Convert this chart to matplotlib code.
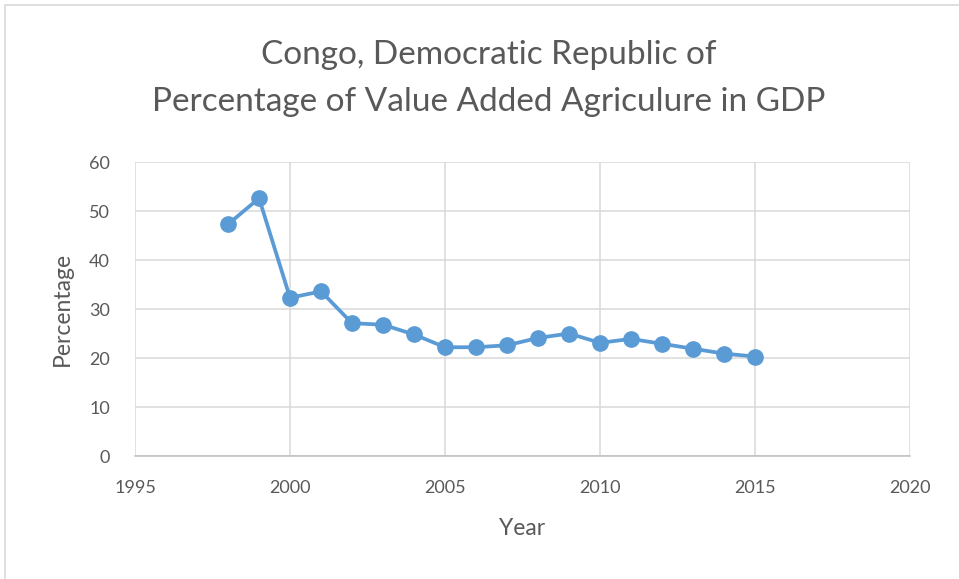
import matplotlib.pyplot as plt
from matplotlib.patches import Rectangle

plt.rcParams['font.family'] = ['Lato', 'DejaVu Sans']

years = [1998, 1999, 2000, 2001, 2002, 2003, 2004, 2005, 2006, 2007,
         2008, 2009, 2010, 2011, 2012, 2013, 2014, 2015]
pct = [47.3, 52.6, 32.3, 33.6, 27.1, 26.8, 24.8, 22.2, 22.2, 22.6,
       24.1, 25.0, 23.1, 23.9, 22.9, 21.9, 20.9, 20.3]
x_ticks = [1995, 2000, 2005, 2010, 2015, 2020]
y_ticks = [0, 10, 20, 30, 40, 50, 60]

fig = plt.figure(figsize=(9.59, 5.79), dpi=100)
ax = fig.add_axes([0.1408, 0.2124, 0.8082, 0.5078])

# light border of the chart box
fig.patches.append(Rectangle((5 / 959, -0.1), 1.2, 1.1 - 5 / 579, transform=fig.transFigure,
                             fill=False, edgecolor='#D9D9D9', linewidth=1.2))

ax.plot(years, pct, color='#5B9BD5', linewidth=2.7, marker='o', markersize=11, zorder=3)

ax.set_xlim(1995, 2020)
ax.set_ylim(0, 60)
ax.set_xticks(x_ticks)
ax.set_yticks(y_ticks)
ax.grid(True, color='#D9D9D9', linewidth=1.1)
ax.set_axisbelow(True)
for s in ['top', 'right', 'left']:
    ax.spines[s].set_visible(False)
ax.spines['bottom'].set_color('#BFBFBF')
ax.spines['bottom'].set_linewidth(1.1)
ax.tick_params(length=0, labelsize=13, labelcolor='#595959')
ax.tick_params(axis='y', pad=18)
ax.tick_params(axis='x', pad=17)

ax.set_xlabel('Year', fontsize=16.5, color='#595959', labelpad=16)
ax.set_ylabel('Percentage', fontsize=16.5, color='#595959', labelpad=12)

fig.text(0.51, 0.905, 'Congo, Democratic Republic of', ha='center', va='center',
         fontsize=24, color='#595959')
fig.text(0.51, 0.824, 'Percentage of Value Added Agriculure in GDP', ha='center', va='center',
         fontsize=24, color='#595959')

plt.savefig('out.png', dpi=100)
